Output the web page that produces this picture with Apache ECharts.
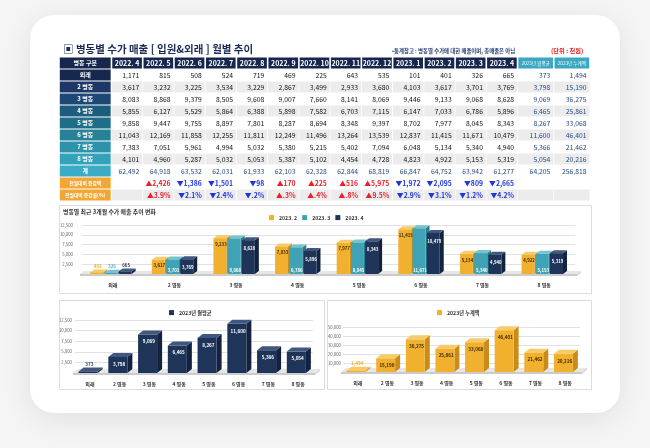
<!DOCTYPE html>
<html>
<head>
<meta charset="utf-8">
<script src="https://cdn.jsdelivr.net/npm/echarts@6/dist/echarts.min.js"></script>
<style>
html, body {margin: 0; padding: 0; background: #f5f5f5;}
#main {width: 650px; height: 448px;}
</style>
</head>
<body>
<div id="main"></div>
<script>
// 월별 수가 매출 (단위: 천원)
var months = ['2022. 4', '2022. 5', '2022. 6', '2022. 7', '2022. 8', '2022. 9', '2022. 10',
    '2022. 11', '2022. 12', '2023. 1', '2023. 2', '2023. 3', '2023. 4'];
var wards = ['외래', '2 병동', '3 병동', '4 병동', '5 병동', '6 병동', '7 병동', '8 병동'];

var salesOut = [1171, 815, 508, 524, 719, 469, 225, 643, 535, 101, 401, 326, 665];
var sales2 = [3617, 3232, 3225, 3534, 3229, 2867, 3499, 2933, 3680, 4103, 3617, 3701, 3769];
var sales3 = [8083, 8868, 9379, 8505, 9608, 9007, 7660, 8141, 8069, 9446, 9133, 9068, 8628];
var sales4 = [5855, 6127, 5529, 5864, 6388, 5898, 7582, 6703, 7115, 6147, 7033, 6786, 5896];
var sales5 = [9858, 9447, 9755, 8897, 7801, 8287, 8694, 8348, 9397, 8702, 7977, 8045, 8343];
var sales6 = [11043, 12169, 11858, 12255, 11811, 12249, 11496, 13264, 13539, 12837, 11415, 11671, 10479];
var sales7 = [7383, 7051, 5961, 4994, 5032, 5380, 5215, 5402, 7094, 6048, 5134, 5340, 4940];
var sales8 = [4101, 4960, 5287, 5032, 5053, 5387, 5102, 4454, 4728, 4823, 4922, 5153, 5319];
var totals = [62492, 64918, 63532, 62031, 61933, 62103, 62328, 62844, 68819, 66847, 64752, 63942, 61277];

var avg2023 = [373, 3798, 9069, 6465, 8267, 11600, 5366, 5054];
var sum2023 = [1494, 15190, 36275, 25861, 33068, 46401, 21462, 20216];
var totalAvg = 64205;
var totalSum = 256818;

var diffAmount = [null, 2426, -1386, -1501, -98, 170, 225, 516, 5975, -1972, -2095, -809, -2665];
var diffRate = [null, 3.9, -2.1, -2.4, -0.2, 0.3, 0.4, 0.8, 9.5, -2.9, -3.1, -1.2, -4.2];

var recentMonths = ['2023. 2', '2023. 3', '2023. 4'];
var avgName = '2023년 월평균';
var sumName = '2023년 누계액';

var FONT = 'Noto Sans CJK KR';
var wardRows = [salesOut, sales2, sales3, sales4, sales5, sales6, sales7, sales8];

// ---- 표 ----
var colWeights = [1.68, 1, 1, 1, 1, 1, 1, 1, 1, 1, 1, 1, 1, 1, 1.16, 1.16];
var colEdge = [0];
colWeights.forEach(function(w, i) { colEdge.push(colEdge[i] + w); });

var rowHeads = ['병동 구분'].concat(wards, ['계', '전월대비 증감액', '전월대비 증감률(%)']);
var colHeads = months.concat([avgName, sumName]);
var labelColors = ['#16264d', '#17284f', '#1d3766', '#1d4876', '#1c5c7c', '#1e6e88', '#288297', '#2c93aa', '#33a2bb', '#3aacc5'];

function fmt(v) { return v == null ? '' : v.toLocaleString('en-US'); }
function fmtDiff(v) { return v == null ? '' : (v > 0 ? '▲' : '▼') + Math.abs(v).toLocaleString('en-US'); }
function fmtRate(v) {
    if (v == null) return '';
    var a = Math.abs(v).toFixed(1);
    if (a.charAt(0) === '0') a = a.substring(1);
    return (v > 0 ? '▲' : '▼') + a + '%';
}

var cellData = [];
var cellInfo = [];
function addCell(c, r, info) { cellData.push([c, r]); cellInfo.push(info); }

rowHeads.forEach(function(rh, r) {
    // 첫 열
    var isDiff = r >= 10;
    addCell(0, r, {
        txt: rh, bg: isDiff ? '#f2a633' : labelColors[r], color: '#fff',
        font: 'bold ' + (isDiff ? 4.8 : 6) + 'px ' + FONT, align: 'center'
    });
    for (var c = 1; c < colHeads.length + 1; c++) {
        var m = c - 1;
        var isSummary = m >= months.length;
        var gray = (r === 2 || r === 4 || r === 6 || r === 8 || r === 11);
        var info = {bg: gray ? '#ececec' : '#fff', color: '#111', font: '6.8px ' + FONT, align: 'right', txt: ''};
        if (r === 0) {
            info.txt = colHeads[m];
            info.bg = isSummary ? '#3aa8c3' : '#16264d';
            info.color = '#fff';
            info.align = 'center';
            info.font = isSummary ? '4.6px ' + FONT : 'bold 7px ' + FONT;
        } else if (r <= 8) {
            var row = wardRows[r - 1];
            if (isSummary) {
                info.txt = fmt(m === months.length ? avg2023[r - 1] : sum2023[r - 1]);
                info.color = '#23497f';
            } else {
                info.txt = fmt(row[m]);
            }
        } else if (r === 9) {
            info.txt = isSummary ? fmt(m === months.length ? totalAvg : totalSum) : fmt(totals[m]);
            info.color = '#23497f';
        } else if (!isSummary) {
            var v = r === 10 ? diffAmount[m] : diffRate[m];
            info.txt = r === 10 ? fmtDiff(v) : fmtRate(v);
            info.color = v > 0 ? '#e8202a' : '#1f35e0';
            info.font = 'bold 6.8px ' + FONT;
        }
        addCell(c, r, info);
    }
});

function renderCell(params, api) {
    var info = cellInfo[params.dataIndex];
    var c = api.value(0), r = api.value(1);
    var p0 = api.coord([colEdge[c], r]);
    var p1 = api.coord([colEdge[c + 1], r]);
    var h = api.size([0, 1])[1];
    var gap = (r === 0 || c === 0) ? 0.8 : 0.4;
    var left = p0[0] + gap, right = p1[0] - gap;
    var top = p0[1] - h / 2 + 0.5, bottom = p0[1] + h / 2 - 0.5;
    return {
        type: 'group',
        children: [{
            type: 'rect',
            shape: {x: left, y: top, width: right - left, height: bottom - top},
            style: {fill: info.bg}
        }, {
            type: 'text',
            style: {
                text: info.txt, x: info.align === 'right' ? right - 3 : (left + right) / 2, y: p0[1],
                align: info.align, verticalAlign: 'middle', fill: info.color, font: info.font
            }
        }]
    };
}

// ---- 3D 막대 ----
function makeBar3d(opt) {
    return function(params, api) {
        var cat = api.value(0), val = api.value(1);
        var band = api.size([1, 0])[0];
        var base = api.coord([cat, 0]);
        var top = api.coord([cat, val]);
        var w = band * opt.widthRatio;
        var cx = base[0] + opt.shift * band;
        var x0 = cx - w / 2, x1 = cx + w / 2, yb = base[1], yt = top[1];
        var dx = opt.dx, dy = opt.dy;
        var children = [{
            type: 'polygon',
            shape: {points: [[x1, yb], [x1 + dx, yb - dy], [x1 + dx, yt - dy], [x1, yt]]},
            style: {fill: opt.side}
        }, {
            type: 'polygon',
            shape: {points: [[x0, yt], [x1, yt], [x1 + dx, yt - dy], [x0 + dx, yt - dy]]},
            style: {fill: opt.topColor}
        }, {
            type: 'rect',
            shape: {x: x0, y: yt, width: w, height: yb - yt},
            style: {fill: opt.front}
        }];
        var txt = val.toLocaleString('en-US');
        var ly, lc;
        if (yb - yt < 9) {
            ly = yt - dy - 3; lc = opt.outColor;
        } else if (opt.labelPos === 'bottom') {
            ly = yb - 4; lc = opt.labelColor;
        } else {
            ly = yt + opt.labelOffset; lc = opt.labelColor;
        }
        children.push({
            type: 'text',
            style: {
                text: txt, x: cx + dx / 4, y: ly, align: 'center', verticalAlign: 'middle',
                fill: lc, font: 'bold ' + opt.labelSize + 'px ' + FONT
            }
        });
        return {type: 'group', children: children};
    };
}

function renderFloor(dx, dy) {
    return function(params, api) {
        var cs = params.coordSys;
        var yb = cs.y + cs.height, x0 = cs.x - 2, x1 = cs.x + cs.width + 2;
        return {
            type: 'group',
            children: [{
                type: 'polygon',
                shape: {points: [[x0, yb], [x1, yb], [x1 + dx, yb - dy], [x0 + dx, yb - dy]]},
                style: {fill: '#e6e6e6'}
            }, {
                type: 'rect',
                shape: {x: x0, y: yb, width: x1 - x0, height: 2},
                style: {fill: '#cbcbcb'}
            }, {
                type: 'polygon',
                shape: {points: [[x1, yb], [x1 + dx, yb - dy], [x1 + dx, yb - dy + 2], [x1, yb + 2]]},
                style: {fill: '#d8d8d8'}
            }]
        };
    };
}

var palette = {
    orange: {front: '#f2b02f', topColor: '#f8cb69', side: '#c98c17', labelColor: '#3a2a00', outColor: '#f2b02f'},
    teal: {front: '#3fa3b5', topColor: '#76c3d0', side: '#2a7f8f', labelColor: '#ffffff', outColor: '#5fb4c3'},
    navy: {front: '#1e3459', topColor: '#40587f', side: '#13223f', labelColor: '#ffffff', outColor: '#1e3459'}
};

function barOpt(base, extra) {
    var o = {};
    Object.keys(base).forEach(function(k) { o[k] = base[k]; });
    Object.keys(extra).forEach(function(k) { o[k] = extra[k]; });
    return o;
}

function catAxis(gridIndex, margin) {
    return {
        gridIndex: gridIndex, type: 'category', data: wards,
        axisLine: {show: false}, axisTick: {show: false},
        axisLabel: {fontSize: 5, fontWeight: 'bold', color: '#333', margin: margin, fontFamily: FONT}
    };
}
function valAxis(gridIndex, max, interval, margin) {
    return {
        gridIndex: gridIndex, type: 'value', min: 0, max: max, interval: interval,
        axisLine: {show: false}, axisTick: {show: false},
        splitLine: {lineStyle: {color: '#e2e2e2', width: 1}},
        axisLabel: {
            fontSize: 4.3, color: '#666', margin: margin, fontFamily: FONT,
            formatter: function(v) { return v === 0 ? '' : v.toLocaleString('en-US'); }
        }
    };
}

function pairs(values) { return values.map(function(v, i) { return [i, v]; }); }

var recentIdx = [10, 11, 12];
var recentSeries = recentIdx.map(function(mi, k) {
    var colors = [palette.orange, palette.teal, palette.navy][k];
    var shifts = [-0.262, -0.03, 0.2];
    return {
        name: recentMonths[k], type: 'custom', xAxisIndex: 1, yAxisIndex: 1, z: 3,
        itemStyle: {color: colors.front},
        renderItem: makeBar3d(barOpt(colors, {
            widthRatio: 0.21, shift: shifts[k], dx: 4, dy: 3,
            labelPos: k === 1 ? 'bottom' : 'top', labelOffset: k === 0 ? 6 : 8, labelSize: 4.3
        })),
        data: pairs(wardRows.map(function(row) { return row[mi]; }))
    };
});

var legendText = {fontSize: 5.2, fontWeight: 'bold', color: '#333', fontFamily: FONT};

var chart = echarts.init(document.getElementById('main'));
chart.setOption({
    backgroundColor: '#f5f5f5',
    animation: false,
    textStyle: {fontFamily: FONT},
    graphic: [{
        type: 'rect', z: -5,
        shape: {x: 30, y: 15, width: 590, height: 398, r: 24},
        style: {fill: '#ffffff', shadowBlur: 30, shadowColor: 'rgba(0,0,0,0.09)', shadowOffsetY: 6}
    }, {
        type: 'rect', z: -4,
        shape: {x: 59.5, y: 205.5, width: 532, height: 88},
        style: {fill: '#fff', stroke: '#dcdcdc', lineWidth: 1}
    }, {
        type: 'rect', z: -4,
        shape: {x: 59.5, y: 300.5, width: 265, height: 89},
        style: {fill: '#fff', stroke: '#dcdcdc', lineWidth: 1}
    }, {
        type: 'rect', z: -4,
        shape: {x: 327.5, y: 300.5, width: 264, height: 89},
        style: {fill: '#fff', stroke: '#dcdcdc', lineWidth: 1}
    }, {
        type: 'text', z: 5,
        style: {text: '▣ 병동별 수가 매출 [ 입원&외래 ] 월별 추이', x: 63, y: 49, verticalAlign: 'middle',
            fill: '#1b2b57', font: 'bold 10.5px ' + FONT}
    }, {
        type: 'text', z: 5,
        style: {text: '•통계참고 : 병동별 수가에 대한 매출이며, 총매출은 아님', x: 392, y: 51, verticalAlign: 'middle',
            fill: '#1f3a6e', font: 'bold 5.4px ' + FONT}
    }, {
        type: 'text', z: 5,
        style: {text: '(단위 : 천원)', x: 551, y: 51, verticalAlign: 'middle',
            fill: '#e02020', font: 'bold 6.2px ' + FONT}
    }, {
        type: 'text', z: 5,
        style: {text: '병동별 최근 3개월 수가 매출 추이 변화', x: 63, y: 212, verticalAlign: 'middle',
            fill: '#333', font: 'bold 5.9px ' + FONT}
    }],
    legend: [{
        data: recentMonths, left: 264, top: 210, itemWidth: 5, itemHeight: 5, itemGap: 5, icon: 'rect',
        textStyle: legendText
    }, {
        data: [avgName], left: 164, top: 305, itemWidth: 5, itemHeight: 5, icon: 'rect',
        textStyle: legendText
    }, {
        data: [sumName], left: 432, top: 305, itemWidth: 5, itemHeight: 5, icon: 'rect',
        textStyle: legendText
    }],
    grid: [
        {left: 59, top: 57, width: 531, height: 144},
        {left: 82, top: 225, width: 493, height: 49},
        {left: 75, top: 320, width: 238, height: 53},
        {left: 343, top: 327, width: 237, height: 45}
    ],
    xAxis: [
        {gridIndex: 0, type: 'value', min: 0, max: colEdge[colEdge.length - 1], show: false},
        catAxis(1, 9),
        catAxis(2, 9),
        catAxis(3, 9)
    ],
    yAxis: [
        {gridIndex: 0, type: 'category', data: rowHeads, inverse: true, show: false},
        valAxis(1, 12500, 2500, 9),
        valAxis(2, 12500, 2500, 3),
        valAxis(3, 50000, 10000, 2)
    ],
    series: [{
        type: 'custom', xAxisIndex: 0, yAxisIndex: 0,
        renderItem: renderCell, data: cellData
    }, {
        type: 'custom', xAxisIndex: 1, yAxisIndex: 1, z: 1, silent: true,
        renderItem: renderFloor(4, 3), data: [[0, 0]]
    }, {
        type: 'custom', xAxisIndex: 2, yAxisIndex: 2, z: 1, silent: true,
        renderItem: renderFloor(5, 4), data: [[0, 0]]
    }, {
        type: 'custom', xAxisIndex: 3, yAxisIndex: 3, z: 1, silent: true,
        renderItem: renderFloor(5, 4), data: [[0, 0]]
    }].concat(recentSeries, [{
        name: avgName, type: 'custom', xAxisIndex: 2, yAxisIndex: 2, z: 3,
        itemStyle: {color: palette.navy.front},
        renderItem: makeBar3d(barOpt(palette.navy, {
            widthRatio: 0.64, shift: -0.06, dx: 5, dy: 4, labelPos: 'top', labelOffset: 7, labelSize: 4.6
        })),
        data: pairs(avg2023)
    }, {
        name: sumName, type: 'custom', xAxisIndex: 3, yAxisIndex: 3, z: 3,
        itemStyle: {color: palette.orange.front},
        renderItem: makeBar3d(barOpt(palette.orange, {
            widthRatio: 0.64, shift: -0.06, dx: 5, dy: 4, labelPos: 'top', labelOffset: 7, labelSize: 4.6
        })),
        data: pairs(sum2023)
    }])
});
</script>
</body>
</html>
